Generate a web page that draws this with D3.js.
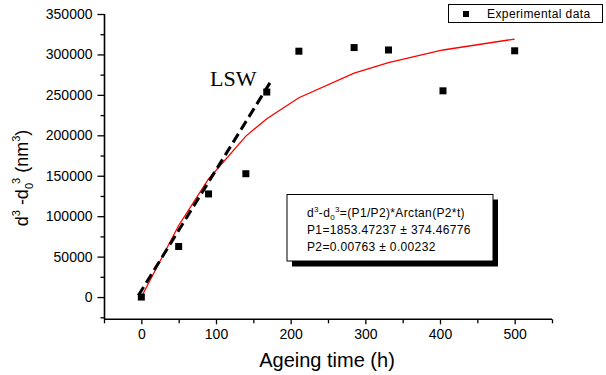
<!DOCTYPE html>
<html><head><meta charset="utf-8">
<script src="https://cdn.jsdelivr.net/npm/d3@7"></script>
<style>body{margin:0;background:#fff}svg{display:block;font-family:"Liberation Sans",Arial,sans-serif}</style>
</head><body><svg id="c" width="606" height="375"></svg>
<script>
// Experimental data
const expTime = [0, 50, 90, 140, 168, 211, 285, 331, 404, 500];
const expValue = [0, 62500, 127500, 152500, 253500, 304000, 308500, 305500, 255000, 304500];
// Fitted arctan curve (at the data times)
const fitTime = [0, 50, 90, 140, 168, 211, 285, 331, 404, 500];
const fitValue = [0, 88500, 146000, 199000, 220500, 246500, 277000, 290000, 305500, 319000];
// LSW line
const lswTime = [-4, 173];
const lswValue = [2000, 266000];
// Ticks
const xTicks = [0, 100, 200, 300, 400, 500];
const xMinor = [-50, 50, 150, 250, 350, 450, 550];
const yTicks = [0, 50000, 100000, 150000, 200000, 250000, 300000, 350000];
const yMinor = [-25000, 25000, 75000, 125000, 175000, 225000, 275000, 325000];
const annotLines = ["P1=1853.47237 \u00b1 374.46776", "P2=0.00763 \u00b1 0.00232"];

const svg = d3.select("#c");
const x = d3.scaleLinear().domain([-50, 550]).range([104, 552]);
const y = d3.scaleLinear().domain([-27500, 350000]).range([319.3, 14]);

// axes
const xAxis = svg.append("g").attr("transform", "translate(0,319.3)")
  .call(d3.axisBottom(x).tickValues(xTicks).tickSize(5).tickPadding(5).tickFormat(d3.format("d")));
const xAxisMinor = svg.append("g").attr("transform", "translate(0,319.3)")
  .call(d3.axisBottom(x).tickValues(xMinor).tickSize(4).tickFormat(""));
const yAxis = svg.append("g").attr("transform", "translate(104.5,0)")
  .call(d3.axisLeft(y).tickValues(yTicks).tickSize(7).tickPadding(5).tickFormat(d3.format("d")));
const yAxisMinor = svg.append("g").attr("transform", "translate(104.5,0)")
  .call(d3.axisLeft(y).tickValues(yMinor).tickSize(4).tickFormat(""));
[xAxis, xAxisMinor, yAxis, yAxisMinor].forEach(g => {
  g.selectAll("path.domain").attr("stroke", "#000").attr("stroke-width", 1.6);
  g.selectAll(".tick line").attr("stroke", "#000").attr("stroke-width", 1.3);
  g.selectAll("text").attr("fill", "#000").style("font-size", "14px")
    .style("font-family", "'Liberation Sans',Arial,sans-serif");
});
xAxisMinor.select("path.domain").remove();
yAxisMinor.select("path.domain").remove();
xAxis.selectAll("path.domain").attr("d", `M104,0H552`);
yAxis.selectAll("path.domain").attr("d", `M0,14V319.3`);

// axis titles
svg.append("text").attr("x", 327).attr("y", 367).attr("text-anchor", "middle")
  .style("font-size", "20px").text("Ageing time (h)");
const yt = svg.append("text").attr("transform", "translate(28,178) rotate(-90)")
  .attr("text-anchor", "middle").style("font-size", "18px");
yt.append("tspan").text("d");
yt.append("tspan").attr("dy", -8).style("font-size", "11px").text("3");
yt.append("tspan").attr("dy", 8).text(" -d");
yt.append("tspan").attr("dy", 5).style("font-size", "11px").text("0");
yt.append("tspan").attr("dy", -13).attr("dx", -1).style("font-size", "11px").text("3");
yt.append("tspan").attr("dy", 8).text(" (nm");
yt.append("tspan").attr("dy", -8).style("font-size", "11px").text("3");
yt.append("tspan").attr("dy", 8).text(")");

// fit curve
const line = d3.line().x(d => x(d[0])).y(d => y(d[1]));
svg.append("path").datum(d3.zip(fitTime, fitValue)).attr("d", line)
  .attr("fill", "none").attr("stroke", "#ff0000").attr("stroke-width", 1.3);

// LSW dashed
svg.append("path").datum(d3.zip(lswTime, lswValue)).attr("d", line)
  .attr("fill", "none").attr("stroke", "#000").attr("stroke-width", 3)
  .attr("stroke-dasharray", "10,5");
svg.append("text").attr("x", 210).attr("y", 86).style("font-family", "'Liberation Serif','Times New Roman',serif")
  .style("font-size", "22px").text("LSW");

// markers
svg.append("g").selectAll("rect").data(d3.zip(expTime, expValue)).join("rect")
  .attr("x", d => x(d[0]) - 3.5).attr("y", d => y(d[1]) - 3.5)
  .attr("width", 7).attr("height", 7).attr("fill", "#000");

// legend
svg.append("rect").attr("x", 448.5).attr("y", 4.5).attr("width", 154).attr("height", 18)
  .attr("fill", "#fff").attr("stroke", "#000").attr("stroke-width", 1);
svg.append("rect").attr("x", 463).attr("y", 11).attr("width", 6).attr("height", 6).attr("fill", "#000");
svg.append("text").attr("x", 487).attr("y", 18).style("font-size", "12px")
  .style("letter-spacing", "0.4px").text("Experimental data");

// annotation box
svg.append("rect").attr("x", 292).attr("y", 199.5).attr("width", 206).attr("height", 67).attr("fill", "#000");
svg.append("rect").attr("x", 287).attr("y", 194.5).attr("width", 206).attr("height", 66.5)
  .attr("fill", "#fff").attr("stroke", "#000").attr("stroke-width", 1);
const a1 = svg.append("text").attr("x", 307).attr("y", 217).style("font-size", "12px").style("letter-spacing", "0.35px");
a1.append("tspan").text("d");
a1.append("tspan").attr("dy", -5).style("font-size", "8px").text("3");
a1.append("tspan").attr("dy", 5).text("-d");
a1.append("tspan").attr("dy", 3).style("font-size", "8px").text("0");
a1.append("tspan").attr("dy", -8).style("font-size", "8px").text("3");
a1.append("tspan").attr("dy", 5).text("=(P1/P2)*Arctan(P2*t)");
svg.append("g").selectAll("text").data(annotLines).join("text")
  .attr("x", 307).attr("y", (d, i) => 234 + i * 17).style("font-size", "12px")
  .style("letter-spacing", "0.35px").text(d => d);
</script></body></html>
